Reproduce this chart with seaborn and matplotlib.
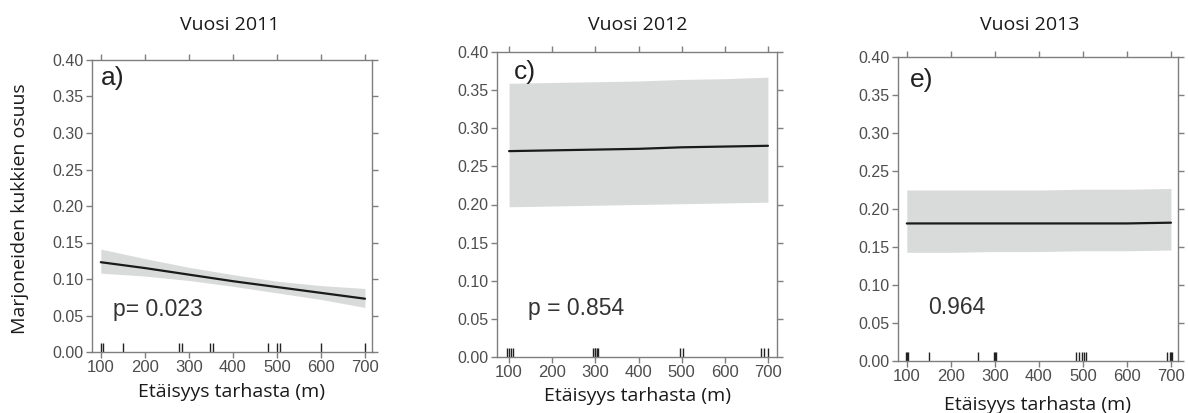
import numpy as np
import pandas as pd
import matplotlib
matplotlib.use('Agg')
import matplotlib.pyplot as plt
import seaborn as sns

# values
distance = [100, 200, 300, 400, 500, 600, 700]

fit_2011 = [0.123, 0.115, 0.106, 0.097, 0.089, 0.081, 0.073]
lo_2011 = [0.108, 0.104, 0.098, 0.090, 0.081, 0.072, 0.061]
hi_2011 = [0.141, 0.128, 0.116, 0.106, 0.097, 0.091, 0.087]

fit_2012 = [0.270, 0.271, 0.272, 0.273, 0.275, 0.276, 0.277]
lo_2012 = [0.197, 0.198, 0.199, 0.200, 0.201, 0.202, 0.203]
hi_2012 = [0.359, 0.360, 0.361, 0.362, 0.364, 0.365, 0.367]

fit_2013 = [0.181, 0.181, 0.181, 0.181, 0.181, 0.181, 0.182]
lo_2013 = [0.143, 0.143, 0.144, 0.144, 0.145, 0.145, 0.146]
hi_2013 = [0.225, 0.225, 0.225, 0.225, 0.226, 0.226, 0.227]

# observed distances (rug marks)
rug_2011 = [100, 105, 150, 278, 285, 348, 355, 480, 500, 506, 600, 700]
rug_2012 = [95, 100, 105, 110, 295, 298, 300, 303, 306, 497, 503, 685, 692, 700]
rug_2013 = [98, 100, 102, 150, 262, 298, 300, 302, 485, 492, 498, 503, 508, 690, 697, 700, 702]

years = ['Vuosi 2011', 'Vuosi 2012', 'Vuosi 2013']
letters = ['a)', 'c)', 'e)']
p_texts = ['p= 0.023', 'p = 0.854', '0.964']

sns.set_style('ticks')
plt.rcParams['font.family'] = ['Liberation Sans', 'DejaVu Sans']

fig = plt.figure(figsize=(11.88, 4.13), dpi=100)
W, H = 1188, 413

# pixel boxes of each panel: left, right, top, bottom
boxes = [(92, 372, 60, 352), (497, 777, 52, 357), (898, 1178, 57, 361)]
xlims = [(80, 716), (72, 721), (80, 716)]
title_pos = [(230, 25), (638, 25), (1030, 25)]
xlabel_y = [392, 396, 405]
letter_pos = [(100, 0.375), (112, 0.374), (107, 0.370)]
p_pos = [(127, 0.058), (144, 0.064), (148, 0.071)]

fits = [fit_2011, fit_2012, fit_2013]
los = [lo_2011, lo_2012, lo_2013]
his = [hi_2011, hi_2012, hi_2013]
rugs = [rug_2011, rug_2012, rug_2013]

spine_col = '#7f7f7f'
tick_col = '#4d4d4d'

for i in range(3):
    l, r, t, b = boxes[i]
    ax = fig.add_axes([l / W, (H - b) / H, (r - l) / W, (b - t) / H])

    df = pd.DataFrame({'dist': distance, 'fit': fits[i], 'lo': los[i], 'hi': his[i]})
    ax.fill_between(df['dist'], df['lo'], df['hi'], color='#d9dbda', lw=0, zorder=1)
    sns.lineplot(data=df, x='dist', y='fit', color='#1a1a1a', lw=1.6, ax=ax, zorder=3)
    sns.rugplot(x=rugs[i], height=0.03, color='#222222', lw=1.1, ax=ax, clip_on=False)

    ax.set_xlim(*xlims[i])
    ax.set_ylim(0, 0.40)
    ax.set_xticks(distance)
    ax.set_yticks(np.arange(0, 0.41, 0.05))
    ax.yaxis.set_major_formatter(matplotlib.ticker.FormatStrFormatter('%.2f'))

    for sp in ax.spines.values():
        sp.set_visible(True)
        sp.set_color(spine_col)
        sp.set_linewidth(1.0)
    ax.tick_params(axis='both', which='both', direction='out', length=4, width=1.0,
                   color=spine_col, labelcolor=tick_col,
                   top=True, right=True, labeltop=False, labelright=False, pad=2)
    ax.tick_params(axis='x', labelsize=12)
    ax.tick_params(axis='y', labelsize=11.5)

    ax.set_xlabel('Etäisyys tarhasta (m)', fontsize=14, family='Open Sans',
                  color='#1a1a1a', va='center')
    ax.xaxis.set_label_coords(0.5, (b - xlabel_y[i]) / (b - t))
    if i == 0:
        ax.set_ylabel('Marjoneiden kukkien osuus', fontsize=14, family='Open Sans',
                      color='#1a1a1a', va='center')
        ax.yaxis.set_label_coords((20 - l) / (r - l), (b - 209) / (b - t))
    else:
        ax.set_ylabel('')

    ax.text(letter_pos[i][0], letter_pos[i][1], letters[i], fontsize=19,
            color='#222222', va='center', ha='left')
    ax.text(p_pos[i][0], p_pos[i][1], p_texts[i], fontsize=16.5,
            color='#333333', va='center', ha='left')

    fig.text(title_pos[i][0] / W, 1 - title_pos[i][1] / H, years[i], fontsize=14,
             family='Open Sans', color='#1a1a1a', ha='center', va='center')

fig.savefig('out.png', dpi=100, facecolor='white')
